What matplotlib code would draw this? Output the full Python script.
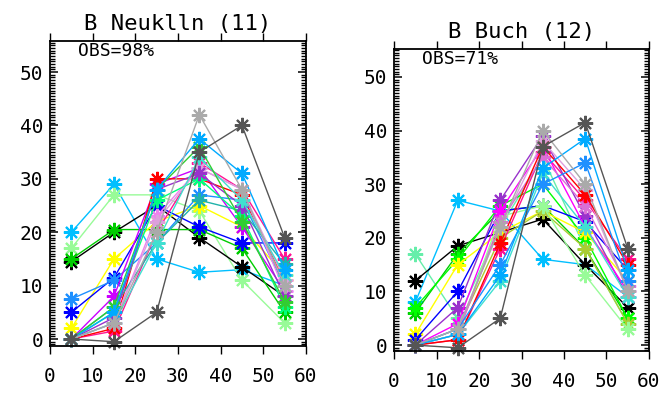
import numpy as np
import matplotlib
matplotlib.use("Agg")
import matplotlib.pyplot as plt
from matplotlib.ticker import MultipleLocator

## Data: distribution per class (x = class centre)

x_centres = [5, 15, 25, 35, 45, 55]

neukoelln_title = "B Neuklln (11)"
neukoelln_obs = "OBS=98%"
neukoelln_series = [
    ("#00bfff", [20, 29, 15, 12.5, 13, 10]),
    ("#98fb98", [17, 27, 27, 24, 11, 3]),
    ("#000000", [14.5, 20, 25, 19, 13.5, 8]),
    ("#00cc00", [15, 20.5, 20.5, 20.5, 17, 5]),
    ("#ffff00", [2, 15, 22, 25, 21, 12]),
    ("#0000ff", [5, 11.5, 25, 21, 18, 18]),
    ("#1e90ff", [7.5, 11, 18, 27, 26, 10]),
    ("#cc00ff", [0, 8, 29, 32, 21, 9]),
    ("#ff1493", [0, 1.5, 20, 33, 28, 15]),
    ("#ff0000", [0, 2, 30, 30, 27, 11]),
    ("#ee82ee", [0, 3, 23, 32, 28, 9]),
    ("#20b2aa", [0, 6, 18, 26, 24, 14]),
    ("#00ff7f", [0, 5, 26, 30, 23, 6]),
    ("#dda0dd", [0, 3, 22, 32, 28, 11]),
    ("#9932cc", [0, 4, 28, 31, 25, 8]),
    ("#40e0d0", [0, 3, 18, 34, 26, 12]),
    ("#32cd32", [0, 6, 28, 36, 22, 7]),
    ("#00aaff", [0, 5, 28, 37.5, 31, 13]),
    ("#aaaaaa", [0, 3, 20, 42, 28, 10]),
    ("#555555", [0, -0.5, 5, 35, 40, 19]),
]

buch_title = "B Buch (12)"
buch_obs = "OBS=71%"
buch_series = [
    ("#00bfff", [8, 27, 25, 16, 15, 9]),
    ("#66eeaa", [17, 5, 22, 35, 18, 4]),
    ("#000000", [12, 18.5, 21, 23.5, 15, 7]),
    ("#00cc00", [6, 17, 25, 26, 18, 5]),
    ("#00ff00", [7, 16, 26, 30, 20, 5]),
    ("#ffff00", [2, 15, 21, 25, 21, 12]),
    ("#0000ff", [1, 10, 25, 26, 23, 14]),
    ("#aacc33", [0, 3, 20, 25, 18, 4]),
    ("#98fb98", [0, 2, 24, 26, 13, 3]),
    ("#ff1493", [0, 1, 18, 36, 27, 16]),
    ("#9932cc", [0, 7, 27, 39, 24, 9]),
    ("#ff00ff", [0, 4, 25, 37, 22, 10]),
    ("#dda0dd", [0, 3, 22, 38, 29, 10]),
    ("#da70d6", [0, 2, 23, 35, 26, 11]),
    ("#40e0d0", [0, 2, 12, 32, 22, 9]),
    ("#ff0000", [0, 1, 19, 37, 28, 15]),
    ("#1e90ff", [0, 3, 15, 30, 34, 12]),
    ("#00aaff", [0, 2, 13, 33, 38.5, 14]),
    ("#aaaaaa", [0, 3, 22, 40, 30, 10]),
    ("#555555", [0, -0.5, 5, 37, 41.5, 18]),
]

## End of Data

plt.rcParams['font.family'] = ['DejaVu Sans Mono', 'DejaVu Sans']

star = (8, 2, 0)  # asterisk marker


def draw_panel(ax, series, title, obs, ylim):
    for color, values in series:
        ax.plot(x_centres, values, color=color, lw=1.0, marker=star,
                markersize=11, markeredgewidth=1.5, clip_on=False)

    ax.set_xlim(0, 60)
    ax.set_ylim(*ylim)
    ax.set_xticks(np.arange(0, 61, 10))
    ax.set_yticks(np.arange(0, 51, 10))
    ax.yaxis.set_minor_locator(MultipleLocator(0.5))

    ax.tick_params(axis='x', which='major', direction='out', length=6,
                   width=1, top=True, labeltop=False, pad=9, labelsize=14)
    ax.tick_params(axis='y', which='major', direction='in', length=6,
                   width=1.1, right=True, pad=5, labelsize=14)
    ax.tick_params(axis='y', which='minor', direction='in', length=3.5,
                   width=1.0, right=True, color='black')
    for s in ax.spines.values():
        s.set_linewidth(1.3)

    ax.set_title(title, fontsize=16, pad=8)
    ax.text(0.11, 0.997, obs, transform=ax.transAxes, ha='left', va='top',
            fontsize=13)


fig = plt.figure(figsize=(6.64, 3.96), dpi=100)
ax1 = fig.add_axes([0.0753, 0.1263, 0.3855, 0.770])
ax2 = fig.add_axes([0.5934, 0.1136, 0.3840, 0.7626])

draw_panel(ax1, neukoelln_series, neukoelln_title, neukoelln_obs, (-1.3, 55.8))
draw_panel(ax2, buch_series, buch_title, buch_obs, (-1.1, 55.2))

fig.savefig("out.png", dpi=100)
